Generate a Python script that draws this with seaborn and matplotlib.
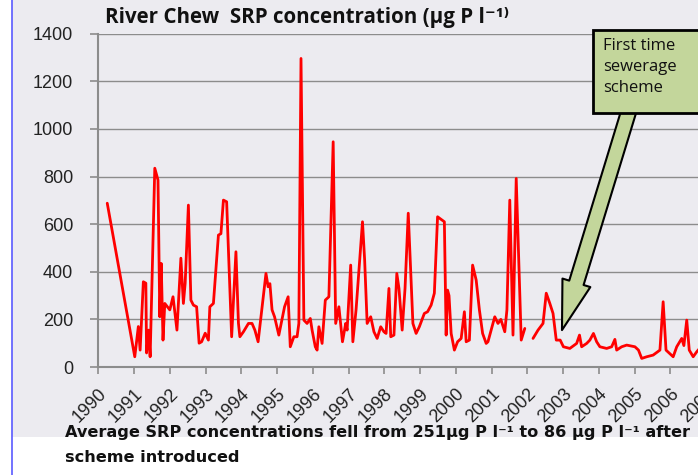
import pandas as pd
import matplotlib
matplotlib.use('Agg')
import matplotlib.pyplot as plt
from matplotlib.patches import Rectangle
from matplotlib.lines import Line2D
import seaborn as sns

# SRP readings on the River Chew (decimal year, ug P per litre)
years = [1990.25, 1991.02, 1991.12, 1991.17, 1991.26, 1991.33, 1991.35, 1991.41, 1991.45, 1991.58,
         1991.67, 1991.72, 1991.76, 1991.81, 1991.86, 1992.00, 1992.09, 1992.20, 1992.31, 1992.38,
         1992.43, 1992.52, 1992.59, 1992.66, 1992.75, 1992.82, 1992.89, 1992.99, 1993.08, 1993.12,
         1993.22, 1993.36, 1993.43, 1993.50, 1993.59, 1993.73, 1993.85, 1993.92, 1993.96, 1994.06,
         1994.20, 1994.30, 1994.38, 1994.47, 1994.69, 1994.75, 1994.80, 1994.86, 1994.93, 1995.05,
         1995.21, 1995.31, 1995.37, 1995.47, 1995.56, 1995.61, 1995.67, 1995.75, 1995.84, 1995.93,
         1995.98, 1996.07, 1996.12, 1996.17, 1996.26, 1996.35, 1996.45, 1996.57, 1996.64, 1996.73,
         1996.83, 1996.92, 1996.96, 1997.06, 1997.12, 1997.21, 1997.39, 1997.45, 1997.52, 1997.62,
         1997.71, 1997.80, 1997.90, 1997.99, 1998.05, 1998.13, 1998.18, 1998.27, 1998.35, 1998.41,
         1998.50, 1998.58, 1998.67, 1998.80, 1998.89, 1998.98, 1999.12, 1999.21, 1999.31, 1999.40,
         1999.49, 1999.68, 1999.73, 1999.77, 1999.81, 1999.87, 1999.96, 2000.05, 2000.15, 2000.24,
         2000.29, 2000.38, 2000.47, 2000.57, 2000.66, 2000.75, 2000.85, 2000.90, 2001.09, 2001.18,
         2001.26, 2001.37, 2001.43, 2001.51, 2001.60, 2001.69, 2001.83, 2001.93,
         2002.16, 2002.30, 2002.44, 2002.53, 2002.63, 2002.72, 2002.81, 2002.92, 2003.01, 2003.19,
         2003.38, 2003.46, 2003.52, 2003.66, 2003.75, 2003.85, 2003.94, 2004.03, 2004.22, 2004.36,
         2004.45, 2004.50, 2004.64, 2004.78, 2005.01, 2005.11, 2005.20, 2005.34, 2005.52, 2005.71,
         2005.80, 2005.88, 2006.08, 2006.18, 2006.32, 2006.38, 2006.46, 2006.53, 2006.64, 2006.74,
         2006.83]
srp = [688, 43, 170, 71, 358, 352, 59, 155, 43, 835,
       785, 211, 435, 113, 267, 240, 295, 155, 457, 267,
       352, 680, 281, 260, 253, 100, 106, 142, 113, 253,
       267, 554, 560, 701, 694, 127, 484, 184, 127, 148,
       183, 183, 155, 106, 393, 337, 350, 240, 211, 134,
       253, 295, 85, 127, 127, 183, 1296, 197, 183, 204,
       155, 85, 71, 169, 99, 281, 295, 946, 183, 253,
       106, 183, 155, 428, 106, 240, 610, 450, 183, 211,
       148, 120, 169, 148, 141, 330, 127, 134, 393, 330,
       155, 330, 646, 183, 141, 169, 225, 232, 260, 310,
       631, 610, 134, 323, 300, 141, 71, 106, 120, 232,
       106, 113, 428, 365, 240, 141, 99, 106, 211, 183,
       200, 148, 240, 701, 134, 792, 113, 162,
       120, 155, 183, 310, 267, 225, 113, 113, 85, 78,
       99, 134, 85, 99, 113, 141, 106, 85, 78, 85,
       116, 71, 85, 92, 85, 71, 36, 43, 50, 71,
       274, 71, 43, 85, 120, 90, 197, 71, 43, 64,
       80]
gap_year = 2002.05  # no samples here, line is broken

year_ticks = list(range(1990, 2009))
srp_ticks = [0, 200, 400, 600, 800, 1000, 1200, 1400]

title = 'River Chew  SRP concentration (\u00b5g P l\u207b\u00b9\u207e'
note = 'First time\nsewerage\nscheme'
caption1 = 'Average SRP concentrations fell from 251\u00b5g P l\u207b\u00b9 to 86 \u00b5g P l\u207b\u00b9 after'
caption2 = 'scheme introduced'

df = pd.DataFrame({'year': years, 'srp': srp})
df['run'] = (df['year'] > gap_year).astype(int)

sns.set_theme(style='white')
plt.rcParams['font.family'] = ['Liberation Sans', 'DejaVu Sans']

W, H = 698, 475
fig = plt.figure(figsize=(W / 100, H / 100), dpi=100)
fig.patch.set_facecolor('white')

# tinted chart area and the blue frame line at the left
fig.add_artist(Rectangle((12 / W, (H - 437) / H), 1, 1, transform=fig.transFigure,
                         fc='#ecebf0', ec='none', zorder=0))
fig.add_artist(Line2D([12 / W, 12 / W], [0, 1], transform=fig.transFigure,
                      color='#5a5aff', lw=1.2, zorder=0))

x0, x1 = 98.3, 750
ax = fig.add_axes([x0 / W, (H - 367) / H, (x1 - x0) / W, (367 - 33.7) / H])
ax.set_facecolor('none')

sns.lineplot(data=df, x='year', y='srp', units='run', estimator=None,
             color='#ff0000', lw=2.0, ax=ax)

ax.set_xlim(1990, 1990 + (x1 - x0) / 35.75)
ax.set_ylim(0, 1400)
ax.set_xticks(year_ticks)
ax.set_xticklabels([str(y) for y in year_ticks])
ax.set_yticks(srp_ticks)
ax.set_xlabel('')
ax.set_ylabel('')

ax.yaxis.grid(True, color='#8c8c8c', lw=1)
ax.set_axisbelow(True)
for s in ['top', 'right']:
    ax.spines[s].set_visible(False)
for s in ['left', 'bottom']:
    ax.spines[s].set_color('#8c8c8c')
    ax.spines[s].set_linewidth(1.5)

ax.tick_params(axis='y', length=6, width=1.2, color='#8c8c8c', pad=12,
               labelsize=13, labelcolor='#222222', left=True)
ax.tick_params(axis='x', length=5, width=1.2, color='#8c8c8c', pad=8,
               labelsize=13, labelcolor='#222222', bottom=True)
for lab in ax.get_xticklabels():
    lab.set_rotation(45)
    lab.set_ha('right')
    lab.set_rotation_mode('anchor')

# callout box and block arrow
green = '#c3d69b'
fig.add_artist(Rectangle((593 / W, (H - 113) / H), 0.2, (113 - 30) / H,
                         transform=fig.transFigure, fc=green, ec='black', lw=2, zorder=6))
fig.text(603 / W, (H - 38) / H, note, ha='left', va='top', fontsize=12,
         family=['Open Sans', 'DejaVu Sans'], linespacing=1.42, color='#111111', zorder=7)
ax.annotate('', xy=(2002.97, 155), xytext=(2004.87, 1090), xycoords='data',
            arrowprops=dict(arrowstyle='simple,head_length=1.78,head_width=1.05,tail_width=0.54',
                            mutation_scale=20, fc=green, ec='black', lw=1.5,
                            shrinkA=0, shrinkB=0),
            annotation_clip=False, zorder=5)

fig.text(105 / W, (H - 17) / H, title, ha='left', va='center', fontsize=14.8,
         fontweight='bold', family=['Open Sans', 'DejaVu Sans'], color='#111111')
fig.text(65 / W, (H - 432) / H, caption1, ha='left', va='center', fontsize=11.6,
         fontweight='bold', family=['DejaVu Sans'], color='#111111')
fig.text(65 / W, (H - 457) / H, caption2, ha='left', va='center', fontsize=11.6,
         fontweight='bold', family=['DejaVu Sans'], color='#111111')

fig.savefig('out.png', dpi=100)
